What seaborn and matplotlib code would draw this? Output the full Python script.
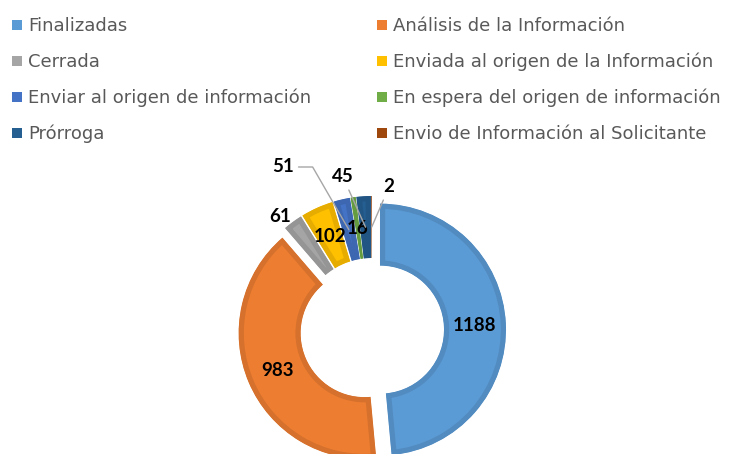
import matplotlib
matplotlib.use("Agg")
import matplotlib.pyplot as plt
import seaborn as sns
import numpy as np
from matplotlib.patches import Rectangle
from matplotlib import colors as mcolors

# ---- data ----
categories = [
    "Finalizadas",
    "Análisis de la Información",
    "Cerrada",
    "Enviada al origen de la Información",
    "Enviar al origen de información",
    "En espera del origen de información",
    "Prórroga",
    "Envio de Información al Solicitante",
]
values = [1188, 983, 61, 102, 51, 16, 45, 2]
palette = ["#5B9BD5", "#ED7D31", "#A5A5A5", "#FFC000",
           "#4472C4", "#70AD47", "#255E91", "#9E480E"]

sns.set_theme(style="white")
plt.rcParams["font.family"] = ["DejaVu Sans"]

W, H = 740, 454
fig = plt.figure(figsize=(W / 100, H / 100), dpi=100)
ax = fig.add_axes([0, 0, 1, 1])

cx, cy = 372, H - 330
R, ring, gap = 126, 62, 8

wedges, _ = ax.pie(values, colors=palette, startangle=90, counterclock=False,
                   center=(cx, cy), radius=R, explode=[gap] * len(values),
                   wedgeprops=dict(width=ring, linewidth=0), frame=False)


def darker(c, f=0.9):
    r, g, b = mcolors.to_rgb(c)
    return (r * f, g * f, b * f)


for w, c in zip(wedges, palette):
    w.set_edgecolor(darker(c))
    w.set_linewidth(7.5)
    w.set_clip_path(w)
    w.set_clip_on(True)


def anchor(w, off=0.0):
    th = np.deg2rad((w.theta1 + w.theta2) / 2)
    r = R - ring / 2 + off
    return (w.center[0] + r * np.cos(th), w.center[1] + r * np.sin(th))


num_font = dict(family=["Lato", "DejaVu Sans"], fontsize=13.5, fontweight="bold",
                color="black")

# labels placed at slice centre
for i in (0, 1, 3, 5):
    x, y = anchor(wedges[i])
    ax.text(x, y, str(values[i]), ha="center", va="center", **num_font)

# labels moved out of the ring (pixel positions, y from top)
moved = {2: (280, 216), 4: (283, 167), 6: (343, 177), 7: (389, 187)}
leaders = {4: "angle,angleA=0,angleB=120,rad=0", 6: "arc3", 7: "arc3"}
for i, (px, py) in moved.items():
    if i in leaders:
        ax.annotate(str(values[i]), xy=anchor(wedges[i]), xytext=(px, H - py),
                    ha="center", va="center",
                    arrowprops=dict(arrowstyle="-", color="#A6A6A6", lw=1.0,
                                    shrinkA=1, shrinkB=0,
                                    connectionstyle=leaders[i]),
                    **num_font)
    else:
        ax.text(px, H - py, str(values[i]), ha="center", va="center", **num_font)

# legend (two columns, row-major as in the original)
leg_x = [12, 377]
leg_base = 31
leg_step = 36
for i, (cat, col) in enumerate(zip(categories, palette)):
    r, c = divmod(i, 2)
    x = leg_x[c]
    yb = H - (leg_base + r * leg_step)
    ax.add_patch(Rectangle((x, yb + 1), 10, 10, facecolor=col, edgecolor="none"))
    ax.text(x + 16, yb, cat, fontsize=13, color="#595959", va="baseline", ha="left")

ax.set_xlim(0, W)
ax.set_ylim(0, H)
ax.set_aspect("equal")
ax.axis("off")

fig.savefig("out.png", dpi=100, facecolor="white")
